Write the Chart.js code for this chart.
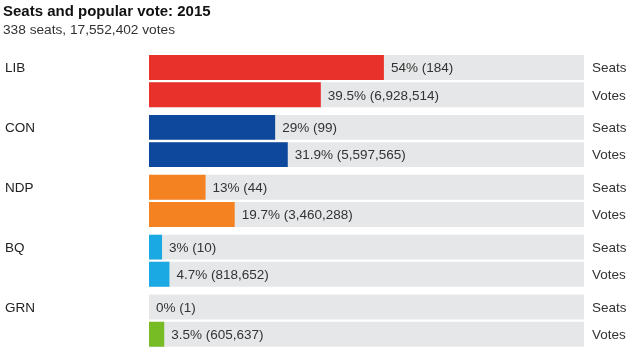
<!DOCTYPE html>
<html>
<head>
<meta charset="utf-8">
<script src="https://cdn.jsdelivr.net/npm/chart.js@4/dist/chart.umd.min.js"></script>
<style>
  html, body { margin: 0; padding: 0; background: #fff; }
  #wrap { width: 635px; height: 357px; position: relative; }
</style>
</head>
<body>
<div id="wrap"><canvas id="c" width="635" height="357"></canvas></div>
<script>
const parties = ['LIB', 'CON', 'NDP', 'BQ', 'GRN'];
const seatPct = [54, 29, 13, 3, 0];
const seatCount = [184, 99, 44, 10, 1];
const votePct = [39.5, 31.9, 19.7, 4.7, 3.5];
const voteCount = [6928514, 5597565, 3460288, 818652, 605637];
const partyColors = ['#e8312a', '#0e489c', '#f58220', '#1ba9e4', '#77bc24'];
const trackMax = [100, 100, 100, 100, 100];
const rowNames = ['Seats', 'Votes'];
const titleText = 'Seats and popular vote: 2015';
const subtitleText = '338 seats, 17,552,402 votes';

const FONT = "Arial, 'Liberation Sans', Helvetica, sans-serif";
const TRACK = '#e6e7e8';
const barOpts = { categoryPercentage: 0.91, barPercentage: 0.916, borderWidth: 0 };

const labelPlugin = {
  id: 'labels',
  afterDatasetsDraw(chart) {
    const ctx = chart.ctx;
    const area = chart.chartArea;
    ctx.save();
    ctx.font = '13.5px ' + FONT;
    ctx.textBaseline = 'middle';
    [0, 1].forEach(di => {
      const meta = chart.getDatasetMeta(di);
      meta.data.forEach((el, i) => {
        const txt = di === 0
          ? seatPct[i] + '% (' + seatCount[i] + ')'
          : votePct[i] + '% (' + voteCount[i].toLocaleString('en-US') + ')';
        ctx.fillStyle = '#333';
        ctx.textAlign = 'left';
        ctx.fillText(txt, el.x + 7, el.y + 1);
        ctx.fillText(rowNames[di], area.right + 8, el.y + 1);
        if (di === 0) {
          ctx.fillStyle = '#222';
          ctx.fillText(parties[i], 5, el.y + 1);
        }
      });
    });
    ctx.restore();
  }
};

new Chart(document.getElementById('c'), {
  type: 'bar',
  data: {
    labels: parties,
    datasets: [
      Object.assign({ label: 'Seats', data: seatPct, stack: 'seats', backgroundColor: partyColors }, barOpts),
      Object.assign({ label: 'Votes', data: votePct, stack: 'votes', backgroundColor: partyColors }, barOpts),
      Object.assign({ label: 'Seats track', data: trackMax, stack: 'seats', backgroundColor: TRACK }, barOpts),
      Object.assign({ label: 'Votes track', data: trackMax, stack: 'votes', backgroundColor: TRACK }, barOpts)
    ]
  },
  options: {
    indexAxis: 'y',
    responsive: false,
    animation: false,
    layout: { padding: { left: 3, right: 51, top: 0, bottom: 6.5 } },
    plugins: {
      legend: { display: false },
      tooltip: { enabled: false },
      title: {
        display: true, text: titleText, align: 'start', color: '#111',
        font: { family: FONT, size: 15, weight: 'bold' },
        padding: { top: 3, bottom: 0 }
      },
      subtitle: {
        display: true, text: subtitleText, align: 'start', color: '#333',
        font: { family: FONT, size: 13.7 },
        padding: { top: 0.6, bottom: 13.2 }
      }
    },
    scales: {
      x: { min: 0, max: 100, stacked: false, display: false },
      y: {
        display: true,
        grid: { display: false },
        border: { display: false },
        ticks: { display: false },
        afterFit(scale) { scale.width = 146; }
      }
    }
  },
  plugins: [labelPlugin]
});
</script>
</body>
</html>
